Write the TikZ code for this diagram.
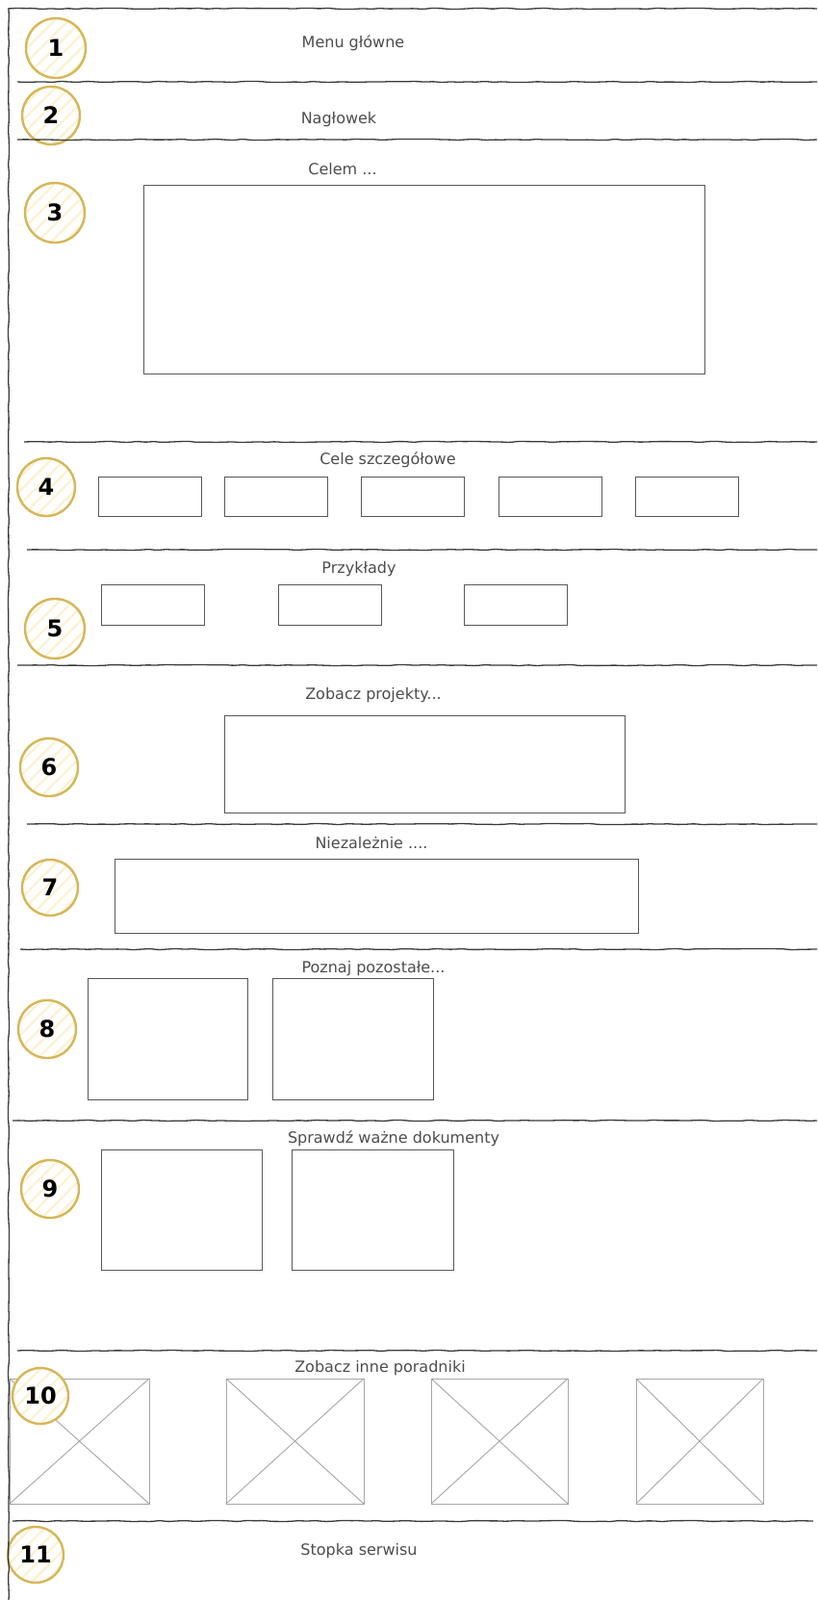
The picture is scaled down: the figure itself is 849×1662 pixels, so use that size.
\documentclass[tikz,border=0pt]{standalone}
\usepackage{fontspec}
\setmainfont{DejaVu Sans}
\usetikzlibrary{patterns.meta,decorations.pathmorphing}
\definecolor{gold}{HTML}{D6B656}
\definecolor{hatch}{RGB}{253,240,205}
\definecolor{ink}{HTML}{3A3A3A}
\definecolor{txt}{HTML}{4D4D4D}
\definecolor{phgray}{HTML}{A6A6A6}
\tikzset{
  sketch/.style={draw=ink, line width=1.3pt, decorate,
    decoration={random steps,segment length=9pt,amplitude=0.6pt}, rounded corners=2pt},
  frame/.style={draw=ink!85, line width=1pt, rectangle, inner sep=0pt, outer sep=0pt},
  ph/.style={draw=phgray, line width=1pt, rectangle, inner sep=0pt, outer sep=0pt},
  phx/.style={draw=phgray, line width=0.9pt},
  badge/.style={circle, draw=gold, line width=2.4pt, minimum size=60pt, inner sep=0pt,
    preaction={fill=white},
    pattern={Lines[angle=45,distance=10pt,line width=2pt]}, pattern color=hatch,
    font=\bfseries\fontsize{24}{24}\selectfont, text=black},
  lbl/.style={font=\fontsize{16}{16}\selectfont, text=txt, inner sep=0pt}
}
\begin{document}
\begin{tikzpicture}[x=1pt,y=-1pt]
\useasboundingbox (0,0) rectangle (849,1662);
\fill[white] (0,0) rectangle (849,1662);

% image placeholders (section 10)
\node[ph, minimum width=145pt, minimum height=130pt] (ph1) at (82.5,1497) {};
\node[ph, minimum width=143pt, minimum height=130pt] (ph2) at (306.5,1497) {};
\node[ph, minimum width=142pt, minimum height=130pt] (ph3) at (519,1497) {};
\node[ph, minimum width=132pt, minimum height=130pt] (ph4) at (727,1497) {};
\foreach \p in {ph1,ph2,ph3,ph4}{
  \draw[phx] (\p.north west) -- (\p.south east);
  \draw[phx] (\p.south west) -- (\p.north east);
}

% numbered badges
\node[badge, minimum size=62pt] (c1) at (58,50) {1};
\node[badge] (c2) at (53,120) {2};
\node[badge, minimum size=62pt] (c3) at (57,221) {3};
\node[badge] (c4) at (48,506) {4};
\node[badge, minimum size=62pt] (c5) at (57,653) {5};
\node[badge] (c6) at (51,797) {6};
\node[badge, minimum size=58pt] (c7) at (52,922) {7};
\node[badge] (c8) at (49,1069) {8};
\node[badge] (c9) at (52,1235) {9};
\node[badge, minimum size=58pt] (c10) at (42,1450) {10};
\node[badge, minimum size=58pt] (c11) at (37,1615) {11};

% separators
\coordinate (l0a) at (8,9);     \coordinate (l0b) at (849,9);
\coordinate (l1a) at (18,85);   \coordinate (l1b) at (849,85);
\coordinate (l2a) at (18,145);  \coordinate (l2b) at (849,145);
\coordinate (l3a) at (25,459);  \coordinate (l3b) at (849,459);
\coordinate (l4a) at (28,571);  \coordinate (l4b) at (849,571);
\coordinate (l5a) at (18,691);  \coordinate (l5b) at (849,691);
\coordinate (l6a) at (28,856);  \coordinate (l6b) at (849,856);
\coordinate (l7a) at (21,986);  \coordinate (l7b) at (849,986);
\coordinate (l8a) at (13,1164); \coordinate (l8b) at (849,1164);
\coordinate (l9a) at (18,1403); \coordinate (l9b) at (849,1403);
\coordinate (l10a) at (13,1580); \coordinate (l10b) at (845,1580);
\coordinate (vt) at (9,9); \coordinate (vb) at (9,1662);
\foreach \i in {0,...,10}{ \draw[sketch] (l\i a) -- (l\i b); }
\draw[sketch] (vt) -- (vb);

% section 3
\node[frame, minimum width=583pt, minimum height=196pt] (b3) at (440.5,290) {};
% section 4
\foreach \n/\x in {1/156,2/286.5,3/428.5,4/571.5,5/713.5}{
  \node[frame, minimum width=107pt, minimum height=41pt] (b4\n) at (\x,515.5) {};
}
% section 5
\foreach \n/\x in {1/158.5,2/343,3/536}{
  \node[frame, minimum width=107pt, minimum height=42pt] (b5\n) at (\x,628) {};
}
% section 6
\node[frame, minimum width=416pt, minimum height=101pt] (b6) at (441,793.5) {};
% section 7
\node[frame, minimum width=544pt, minimum height=77pt] (b7) at (391,930.5) {};
% section 8
\node[frame, minimum width=166pt, minimum height=126pt] (b81) at (174,1079) {};
\node[frame, minimum width=167pt, minimum height=126pt] (b82) at (366.5,1079) {};
% section 9
\node[frame, minimum width=167pt, minimum height=125pt] (b91) at (188.5,1256.5) {};
\node[frame, minimum width=168pt, minimum height=125pt] (b92) at (387,1256.5) {};

% labels
\node[lbl] (t1) at (367,45) {Menu główne};
\node[lbl] (t2) at (352,124) {Nagłowek};
\node[lbl] (t3) at (356,176) {Celem ...};
\node[lbl] (t4) at (403,478) {Cele szczegółowe};
\node[lbl] (t5) at (373,591) {Przykłady};
\node[lbl] (t6) at (388,722) {Zobacz projekty...};
\node[lbl] (t7) at (386,876) {Niezależnie ....};
\node[lbl] (t8) at (388,1006) {Poznaj pozostałe...};
\node[lbl] (t9) at (409,1183) {Sprawdź ważne dokumenty};
\node[lbl] (t10) at (395,1421) {Zobacz inne poradniki};
\node[lbl] (t11) at (373,1611) {Stopka serwisu};
\end{tikzpicture}
\end{document}
